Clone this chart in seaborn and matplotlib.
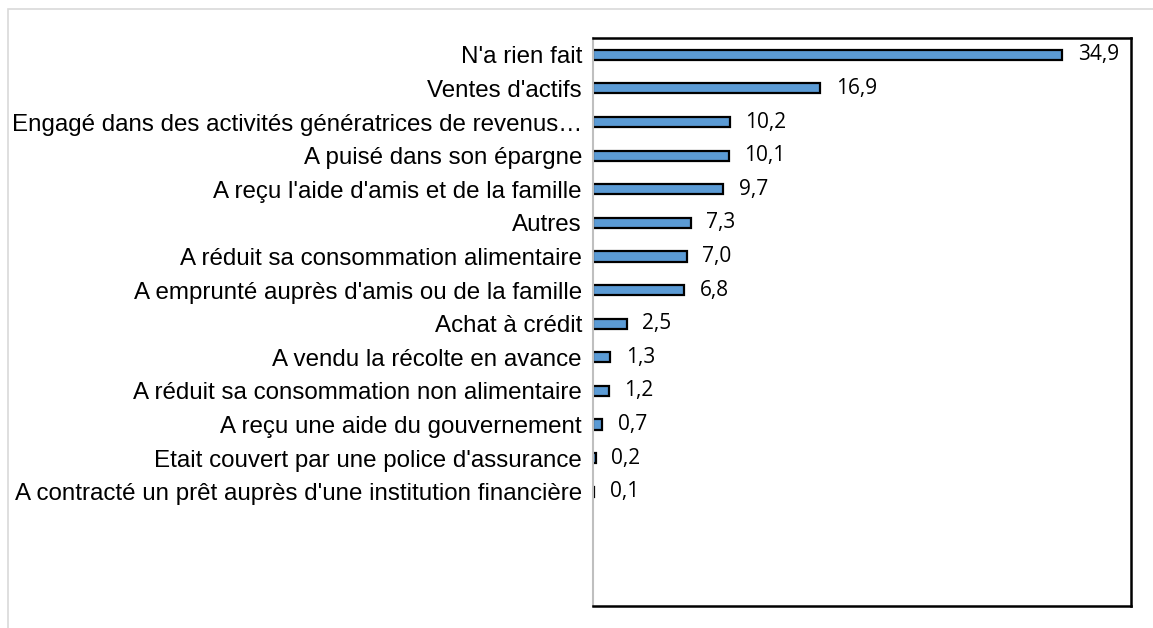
import matplotlib.pyplot as plt
import matplotlib.patches as mpatches
import pandas as pd
import seaborn as sns

# Data
strategies = [
    "N'a rien fait",
    "Ventes d'actifs",
    "Engagé dans des activités génératrices de revenus…",
    "A puisé dans son épargne",
    "A reçu l'aide d'amis et de la famille",
    "Autres",
    "A réduit sa consommation alimentaire",
    "A emprunté auprès d'amis ou de la famille",
    "Achat à crédit",
    "A vendu la récolte en avance",
    "A réduit sa consommation non alimentaire",
    "A reçu une aide du gouvernement",
    "Etait couvert par une police d'assurance",
    "A contracté un prêt auprès d'une institution financière",
]
percents = [34.9, 16.9, 10.2, 10.1, 9.7, 7.3, 7.0, 6.8, 2.5, 1.3, 1.2, 0.7, 0.2, 0.1]

df = pd.DataFrame({'strategie': strategies, 'pct': percents})

sns.set_style('white')
plt.rcParams['font.family'] = ['Liberation Sans', 'DejaVu Sans']
plt.rcParams['text.color'] = 'black'
plt.rcParams['ytick.color'] = 'black'

fig = plt.figure(figsize=(11.53, 6.28), dpi=100)
ax = fig.add_axes([593 / 1153, 1 - 606 / 628, (1131 - 593) / 1153, (606 - 38) / 628])

# light grey frame around the whole chart area
fig.patches.append(mpatches.Rectangle((8 / 1153, -0.1), 1.2, 1 - 9 / 628 + 0.1,
                                      transform=fig.transFigure, fill=False,
                                      edgecolor='#d9d9d9', linewidth=1.2))

sns.barplot(data=df, y='strategie', x='pct', orient='h', color='#5b9bd5',
            edgecolor='black', linewidth=1.6, width=0.3, saturation=1, ax=ax)

for i, v in enumerate(percents):
    ax.annotate(f'{v:.1f}'.replace('.', ','), xy=(v, i), xytext=(11, 0),
                textcoords='offset points', va='center', ha='left',
                fontsize=15, family='Open Sans', color='black')

ax.set_xlim(0, 40)
ax.set_ylim(16.4, -0.5)
ax.set_xlabel('')
ax.set_ylabel('')
ax.set_xticks([])
ax.tick_params(axis='y', length=0, pad=8, labelsize=17.4, labelcolor='black')

for side in ['top', 'right', 'bottom']:
    ax.spines[side].set_color('black')
    ax.spines[side].set_linewidth(1.8)
ax.spines['left'].set_color('#bfbfbf')
ax.spines['left'].set_linewidth(1.5)

fig.savefig('out.png', dpi=100)
